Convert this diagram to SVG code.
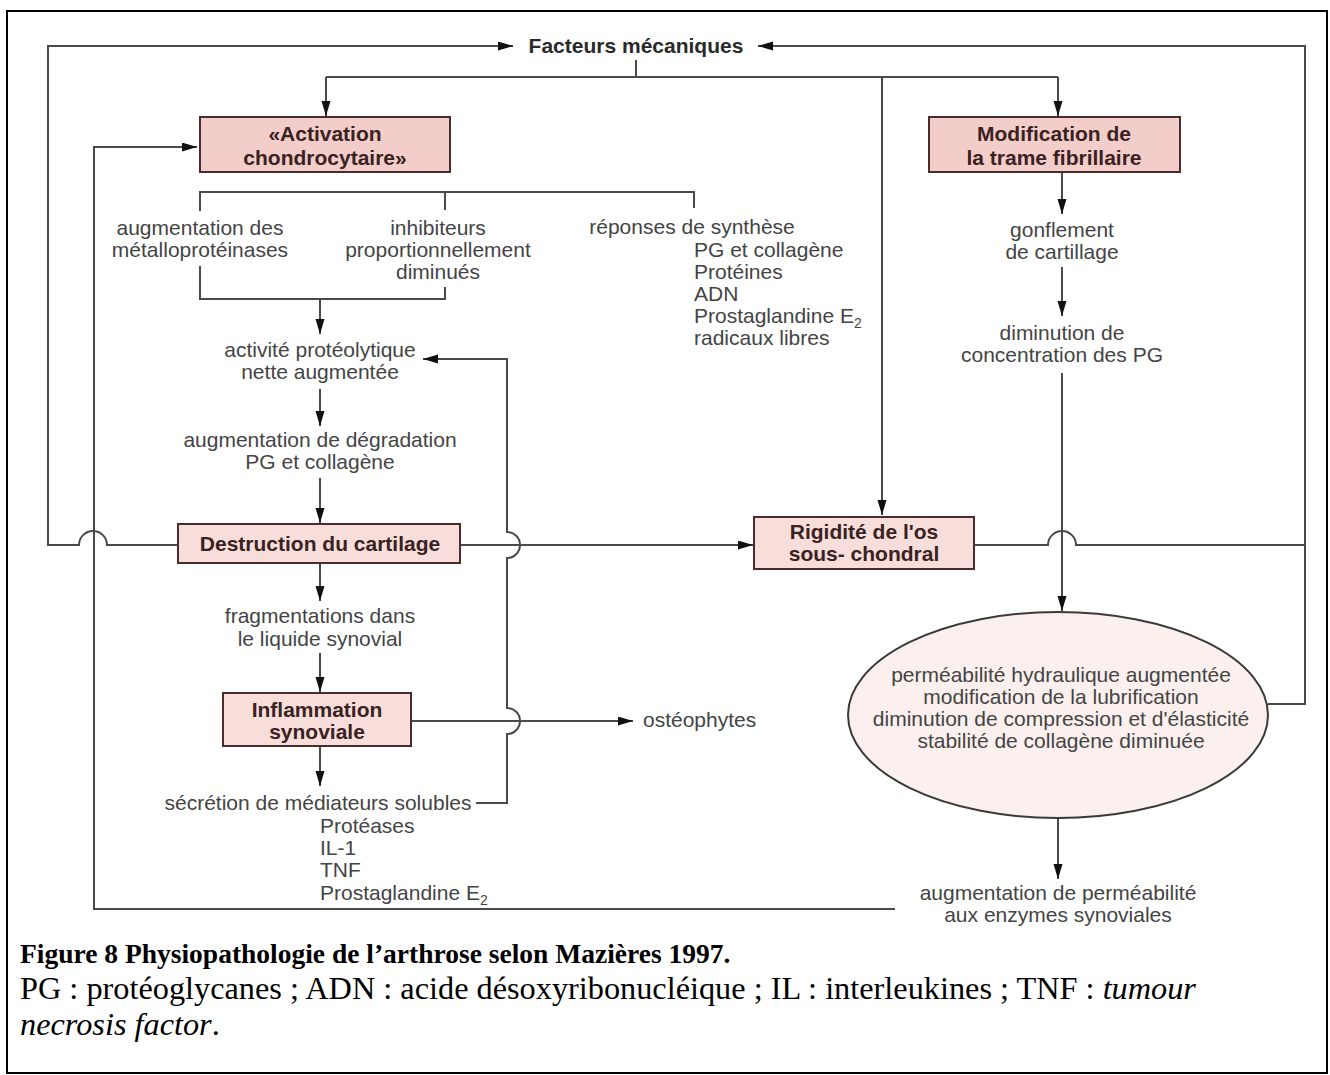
<svg xmlns="http://www.w3.org/2000/svg" width="1330" height="1075" viewBox="0 0 1330 1075">
<style>
.ln{fill:none;stroke:#4a4a4a;stroke-width:2}
.ar{marker-end:url(#ah)}
.box1{fill:#f3cdc9;stroke:#4a2c2c;stroke-width:2}
.box2{fill:#f7deda;stroke:#4a2c2c;stroke-width:2}
.ell{fill:#fcf0ee;stroke:#3a3a3a;stroke-width:2}
.bt{font-family:"Liberation Sans",Arial,sans-serif;font-weight:bold;font-size:21px;fill:#3a2222;text-anchor:middle}
.t{font-family:"Liberation Sans",Arial,sans-serif;font-size:21px;fill:#444;text-anchor:middle}
.tl{font-family:"Liberation Sans",Arial,sans-serif;font-size:21px;fill:#444}
.cap{font-family:"Liberation Serif","Times New Roman",serif;font-size:32.3px;fill:#000}
</style>
<defs>
<marker id="ah" markerUnits="userSpaceOnUse" markerWidth="16" markerHeight="10" refX="15" refY="4.5" orient="auto">
<path d="M0,0 L15,4.5 L0,9 z" fill="#111"/>
</marker>
</defs>
<rect x="7" y="11" width="1320" height="1062" fill="#fff" stroke="#000" stroke-width="2"/>

<g id="connectors">
<path class="ln ar" d="M178,545 H107 A14,14 0 0 0 79,545 H48 V46 H513"/>
<path class="ln" d="M974,545 H1048 A14,14 0 0 1 1076,545 H1305"/>
<path class="ln ar" d="M1268,704 H1305 V46 H758"/>
<path class="ln" d="M636,60 V77 M326,77 H1058"/>
<path class="ln ar" d="M326,77 V116"/>
<path class="ln ar" d="M1058,77 V116"/>
<path class="ln ar" d="M882,77 V515"/>
<path class="ln" d="M200,211 V192 H694 V208 M445,192 V210"/>
<path class="ln" d="M200,266 V299 H445 V287"/>
<path class="ln ar" d="M320,299 V334"/>
<path class="ln ar" d="M320,389 V426"/>
<path class="ln ar" d="M320,478 V523"/>
<path class="ln ar" d="M320,563 V601"/>
<path class="ln ar" d="M320,653 V692"/>
<path class="ln ar" d="M320,746 V786"/>
<path class="ln ar" d="M476,803 H507 V734 A13,13 0 0 0 507,708 V558 A13,13 0 0 0 507,532 V359 H423"/>
<path class="ln ar" d="M460,545 H753"/>
<path class="ln ar" d="M411,721 H633"/>
<path class="ln ar" d="M895,909 H94 V147 H197"/>
<path class="ln ar" d="M1062,172 V214"/>
<path class="ln ar" d="M1062,267 V316"/>
<path class="ln ar" d="M1062,373 V611"/>
<path class="ln ar" d="M1058,818 V879"/>
</g>

<g id="facteurs">
<text x="636" y="53" class="bt" style="fill:#2a2a2a">Facteurs mécaniques</text>
</g>

<g id="activation">
<rect class="box1" x="200" y="117" width="250" height="55"/>
<text x="325" y="141" class="bt">«Activation</text>
<text x="325" y="165" class="bt">chondrocytaire»</text>
</g>

<g id="modification">
<rect class="box1" x="929" y="117" width="251" height="55"/>
<text x="1054" y="141" class="bt">Modification de</text>
<text x="1054" y="165" class="bt">la trame fibrillaire</text>
</g>

<g id="metallo">
<text x="200" y="235" class="t">augmentation des</text>
<text x="200" y="257" class="t">métalloprotéinases</text>
</g>

<g id="inhibiteurs">
<text x="438" y="235" class="t">inhibiteurs</text>
<text x="438" y="257" class="t">proportionnellement</text>
<text x="438" y="279" class="t">diminués</text>
</g>

<g id="synthese">
<text x="692" y="234" class="t">réponses de synthèse</text>
<text x="694" y="257" class="tl">PG et collagène</text>
<text x="694" y="279" class="tl">Protéines</text>
<text x="694" y="301" class="tl">ADN</text>
<text x="694" y="323" class="tl">Prostaglandine E<tspan dy="5" font-size="14">2</tspan></text>
<text x="694" y="345" class="tl">radicaux libres</text>
</g>

<g id="proteolytique">
<text x="320" y="357" class="t">activité protéolytique</text>
<text x="320" y="379" class="t">nette augmentée</text>
</g>

<g id="degradation">
<text x="320" y="447" class="t">augmentation de dégradation</text>
<text x="320" y="469" class="t">PG et collagène</text>
</g>

<g id="destruction">
<rect class="box2" x="178" y="524" width="282" height="39"/>
<text x="320" y="551" class="bt">Destruction du cartilage</text>
</g>

<g id="fragmentations">
<text x="320" y="623" class="t">fragmentations dans</text>
<text x="320" y="646" class="t">le liquide synovial</text>
</g>

<g id="inflammation">
<rect class="box2" x="223" y="693" width="188" height="53"/>
<text x="317" y="717" class="bt">Inflammation</text>
<text x="317" y="739" class="bt">synoviale</text>
</g>

<g id="osteophytes">
<text x="643" y="727" class="tl">ostéophytes</text>
</g>

<g id="secretion">
<text x="318" y="810" class="t">sécrétion de médiateurs solubles</text>
<text x="320" y="833" class="tl">Protéases</text>
<text x="320" y="855" class="tl">IL-1</text>
<text x="320" y="877" class="tl">TNF</text>
<text x="320" y="900" class="tl">Prostaglandine E<tspan dy="5" font-size="14">2</tspan></text>
</g>

<g id="rigidite">
<rect class="box2" x="754" y="517" width="220" height="52"/>
<text x="864" y="539" class="bt">Rigidité de l'os</text>
<text x="864" y="561" class="bt">sous- chondral</text>
</g>

<g id="gonflement">
<text x="1062" y="237" class="t">gonflement</text>
<text x="1062" y="259" class="t">de cartillage</text>
</g>

<g id="diminution">
<text x="1062" y="340" class="t">diminution de</text>
<text x="1062" y="362" class="t">concentration des PG</text>
</g>

<g id="ellipse">
<ellipse class="ell" cx="1058" cy="715" rx="210" ry="103"/>
<text x="1061" y="682" class="t">perméabilité hydraulique augmentée</text>
<text x="1061" y="704" class="t">modification de la lubrification</text>
<text x="1061" y="726" class="t">diminution de compression et d'élasticité</text>
<text x="1061" y="748" class="t">stabilité de collagène diminuée</text>
</g>

<g id="permeabilite">
<text x="1058" y="900" class="t">augmentation de perméabilité</text>
<text x="1058" y="922" class="t">aux enzymes synoviales</text>
</g>

<g id="caption">
<text x="20" y="963" class="cap" font-weight="bold" style="font-size:27.5px">Figure 8 Physiopathologie de l’arthrose selon Mazières 1997.</text>
<text x="20" y="999" class="cap">PG : protéoglycanes ; ADN : acide désoxyribonucléique ; IL : interleukines ; TNF : <tspan font-style="italic">tumour</tspan></text>
<text x="20" y="1035" class="cap" font-style="italic">necrosis factor<tspan font-style="normal">.</tspan></text>
</g>
</svg>
